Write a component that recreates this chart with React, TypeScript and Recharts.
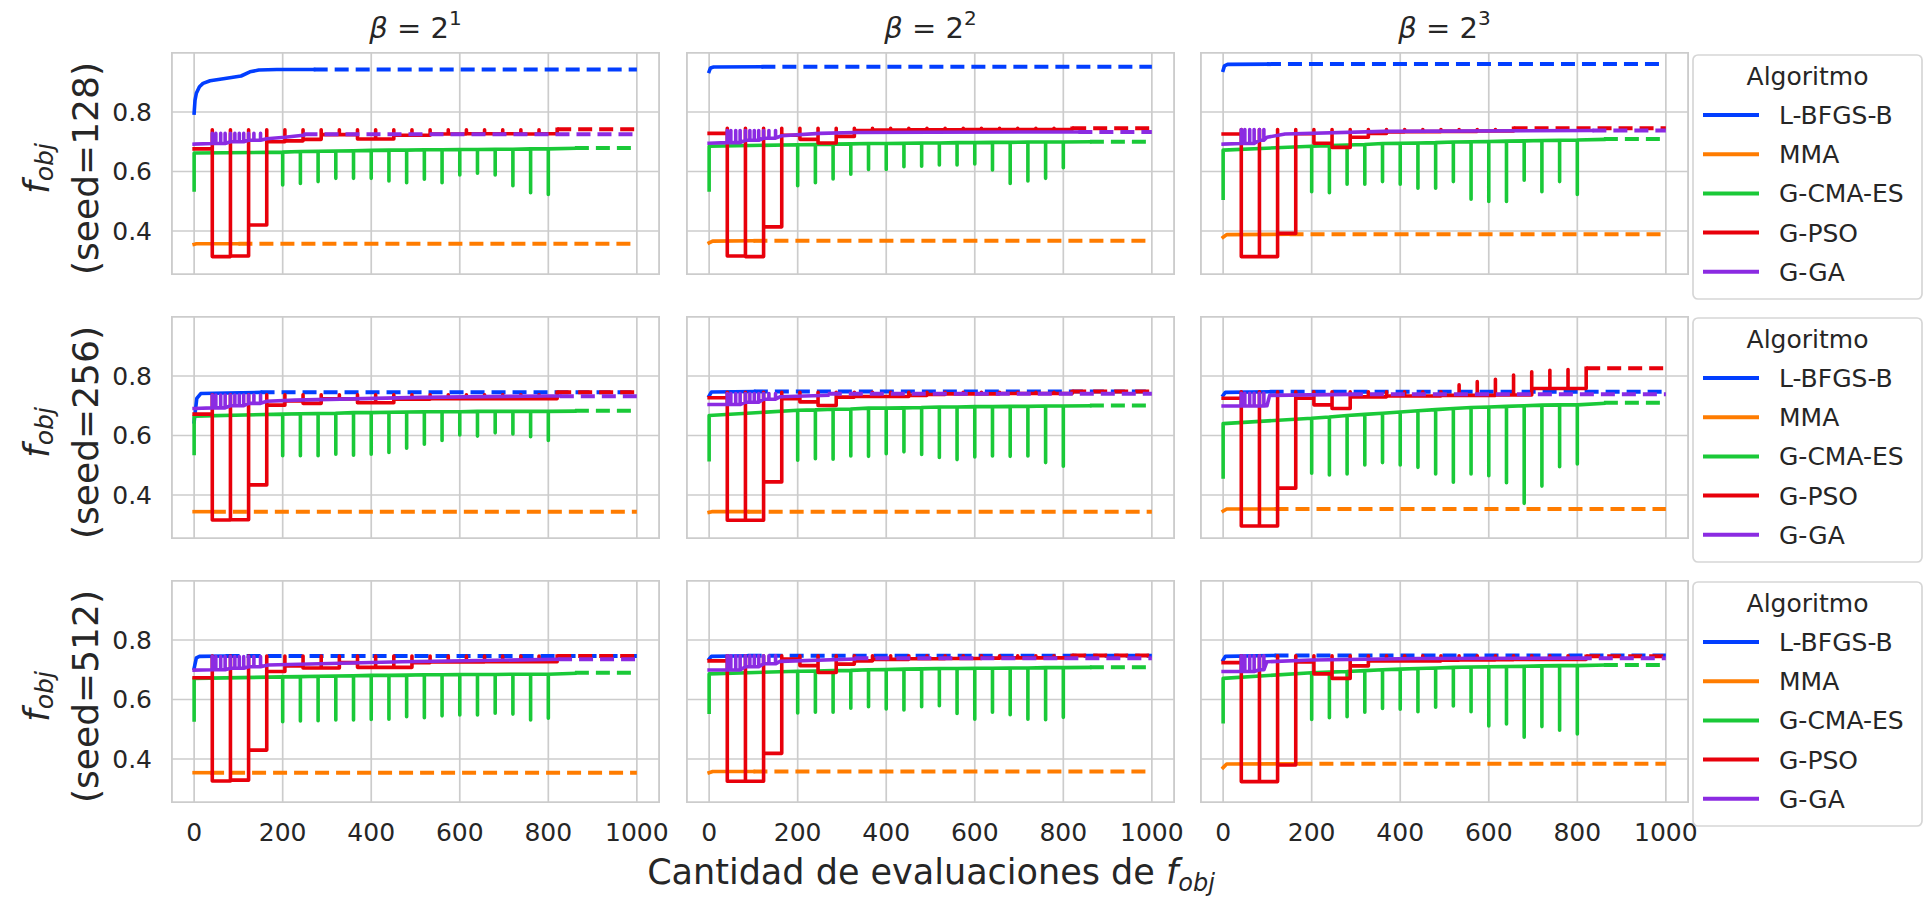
import React from 'react';
import { LineChart, Line, XAxis, YAxis, CartesianGrid } from 'recharts';

type Pt = [number, number];

// ---------- labels / ticks ----------
const betaExponents = ['1', '2', '3'];
const seedLabels = ['128', '256', '512'];
const algorithmNames = ['L-BFGS-B', 'MMA', 'G-CMA-ES', 'G-PSO', 'G-GA'];
const algorithmColors = ['#023eff', '#ff7c00', '#1ac938', '#e8000b', '#8b2be2'];
const xTicks = [0, 200, 400, 600, 800, 1000];
const yTicks = [0.4, 0.6, 0.8];
const xDomain: [number, number] = [-50, 1050];
const yDomain: [number, number] = [0.2555, 0.9983];
const xEnd = 1000;
const legendTitle = 'Algoritmo';
const xLabelText = 'Cantidad de evaluaciones de ';

// ---------- L-BFGS-B (solid trace; dashed continuation at last value) ----------
const lbfgs_s128_b1: Pt[] = [[0, 0.796], [2, 0.84], [5, 0.863], [12, 0.885], [20, 0.896], [36, 0.905], [66, 0.912], [106, 0.921], [126, 0.935], [146, 0.941], [187, 0.943], [270, 0.943]];
const lbfgs_s128_b2: Pt[] = [[0, 0.936], [3, 0.948], [10, 0.951], [118, 0.952]];
const lbfgs_s128_b3: Pt[] = [[0, 0.940], [3, 0.955], [10, 0.960], [99, 0.961]];
const lbfgs_s256_b1: Pt[] = [[0, 0.646], [6, 0.725], [15, 0.741], [150, 0.745]];
const lbfgs_s256_b2: Pt[] = [[0, 0.733], [5, 0.746], [101, 0.748]];
const lbfgs_s256_b3: Pt[] = [[0, 0.735], [5, 0.745], [105, 0.747]];
const lbfgs_s512_b1: Pt[] = [[0, 0.705], [5, 0.740], [12, 0.745], [71, 0.746]];
const lbfgs_s512_b2: Pt[] = [[0, 0.736], [5, 0.745], [87, 0.747]];
const lbfgs_s512_b3: Pt[] = [[0, 0.733], [5, 0.745], [116, 0.748]];

// ---------- MMA ----------
const mma_s128_b1: Pt[] = [[0, 0.355], [5, 0.357], [100, 0.357]];
const mma_s128_b2: Pt[] = [[0, 0.360], [8, 0.366], [100, 0.367]];
const mma_s128_b3: Pt[] = [[0, 0.379], [8, 0.388], [150, 0.389]];
const mma_s256_b1: Pt[] = [[0, 0.344], [40, 0.344]];
const mma_s256_b2: Pt[] = [[0, 0.342], [6, 0.344], [87, 0.344]];
const mma_s256_b3: Pt[] = [[0, 0.346], [8, 0.353], [116, 0.353]];
const mma_s512_b1: Pt[] = [[0, 0.354], [36, 0.354]];
const mma_s512_b2: Pt[] = [[0, 0.354], [8, 0.358], [100, 0.358]];
const mma_s512_b3: Pt[] = [[0, 0.371], [8, 0.383], [170, 0.384]];

// ---------- G-CMA-ES ----------
const cmaSpikeX = [200, 240, 280, 320, 360, 400, 440, 480, 520, 560, 600, 640, 680, 720, 760, 800];
const cmaSolidEnd = 860;
const cmaStart_s128 = [0.538, 0.538, 0.510];
const cmaStart_s256 = [0.540, 0.519, 0.461];
const cmaStart_s512 = [0.531, 0.557, 0.525];
const cmaBase_s128_b1 = [0.662, 0.665, 0.667, 0.668, 0.669, 0.670, 0.671, 0.672, 0.672, 0.673, 0.673, 0.674, 0.674, 0.675, 0.675, 0.676, 0.676, 0.678];
const cmaBase_s128_b2 = [0.685, 0.690, 0.691, 0.692, 0.693, 0.694, 0.694, 0.695, 0.696, 0.696, 0.697, 0.697, 0.698, 0.698, 0.699, 0.699, 0.699, 0.700];
const cmaBase_s128_b3 = [0.672, 0.685, 0.687, 0.689, 0.691, 0.694, 0.695, 0.696, 0.697, 0.699, 0.700, 0.701, 0.702, 0.703, 0.704, 0.705, 0.706, 0.708];
const cmaBase_s256_b1 = [0.665, 0.672, 0.673, 0.674, 0.675, 0.677, 0.677, 0.678, 0.679, 0.680, 0.680, 0.680, 0.681, 0.681, 0.681, 0.681, 0.681, 0.682];
const cmaBase_s256_b2 = [0.667, 0.685, 0.686, 0.688, 0.689, 0.692, 0.692, 0.693, 0.694, 0.696, 0.696, 0.697, 0.697, 0.698, 0.698, 0.699, 0.699, 0.700];
const cmaBase_s256_b3 = [0.640, 0.658, 0.662, 0.667, 0.671, 0.675, 0.679, 0.683, 0.687, 0.691, 0.694, 0.696, 0.698, 0.700, 0.702, 0.703, 0.703, 0.708];
const cmaBase_s512_b1 = [0.671, 0.676, 0.677, 0.678, 0.679, 0.680, 0.681, 0.681, 0.682, 0.683, 0.683, 0.684, 0.684, 0.684, 0.685, 0.685, 0.685, 0.688];
const cmaBase_s512_b2 = [0.686, 0.695, 0.696, 0.697, 0.698, 0.700, 0.701, 0.702, 0.703, 0.704, 0.704, 0.705, 0.705, 0.706, 0.706, 0.707, 0.707, 0.708];
const cmaBase_s512_b3 = [0.671, 0.690, 0.692, 0.694, 0.697, 0.700, 0.702, 0.704, 0.706, 0.708, 0.709, 0.710, 0.711, 0.712, 0.713, 0.714, 0.714, 0.716];
const cmaSpike_s128_b1 = [0.555, 0.560, 0.566, 0.577, 0.577, 0.577, 0.568, 0.562, 0.574, 0.562, 0.588, 0.594, 0.588, 0.552, 0.529, 0.523];
const cmaSpike_s128_b2 = [0.552, 0.562, 0.575, 0.591, 0.607, 0.607, 0.616, 0.618, 0.622, 0.622, 0.625, 0.605, 0.560, 0.568, 0.577, 0.613];
const cmaSpike_s128_b3 = [0.532, 0.529, 0.557, 0.557, 0.566, 0.557, 0.544, 0.544, 0.566, 0.507, 0.499, 0.499, 0.571, 0.532, 0.566, 0.523];
const cmaSpike_s256_b1 = [0.532, 0.532, 0.532, 0.537, 0.534, 0.537, 0.543, 0.557, 0.571, 0.583, 0.602, 0.598, 0.609, 0.605, 0.596, 0.583];
const cmaSpike_s256_b2 = [0.517, 0.522, 0.520, 0.531, 0.530, 0.539, 0.545, 0.536, 0.526, 0.519, 0.528, 0.531, 0.530, 0.531, 0.509, 0.497];
const cmaSpike_s256_b3 = [0.473, 0.467, 0.471, 0.501, 0.509, 0.501, 0.493, 0.471, 0.443, 0.471, 0.465, 0.441, 0.372, 0.430, 0.495, 0.504];
const cmaSpike_s512_b1 = [0.525, 0.528, 0.529, 0.531, 0.531, 0.533, 0.534, 0.542, 0.539, 0.545, 0.548, 0.548, 0.554, 0.551, 0.531, 0.537];
const cmaSpike_s512_b2 = [0.555, 0.557, 0.557, 0.571, 0.576, 0.568, 0.565, 0.576, 0.579, 0.553, 0.534, 0.557, 0.549, 0.534, 0.532, 0.540];
const cmaSpike_s512_b3 = [0.533, 0.539, 0.542, 0.557, 0.570, 0.567, 0.559, 0.574, 0.578, 0.559, 0.511, 0.518, 0.473, 0.509, 0.497, 0.484];
const cmaFinal_s128 = [0.679, 0.700, 0.709];
const cmaFinal_s256 = [0.683, 0.701, 0.710];
const cmaFinal_s512 = [0.690, 0.708, 0.716];

// ---------- G-PSO (one level per iteration block of 41 evaluations) ----------
const psoBlockX = [0, 41, 82, 123, 164, 205, 246, 287, 328, 369, 410, 451, 492, 533, 574, 615, 656, 697, 738, 779, 820];
const psoLevels_s128_b1 = [0.676, 0.314, 0.316, 0.420, 0.700, 0.703, 0.708, 0.724, 0.724, 0.709, 0.709, 0.722, 0.722, 0.726, 0.726, 0.727, 0.727, 0.727, 0.726, 0.727];
const psoLevels_s128_b2 = [0.728, 0.316, 0.314, 0.414, 0.722, 0.708, 0.696, 0.718, 0.738, 0.739, 0.739, 0.740, 0.740, 0.740, 0.741, 0.741, 0.741, 0.741, 0.741, 0.741];
const psoLevels_s128_b3 = [0.726, 0.314, 0.314, 0.392, 0.727, 0.695, 0.681, 0.715, 0.728, 0.733, 0.734, 0.734, 0.735, 0.735, 0.736, 0.736];
const psoLevels_s256_b1 = [0.672, 0.316, 0.317, 0.434, 0.702, 0.716, 0.708, 0.723, 0.723, 0.710, 0.710, 0.722, 0.722, 0.724, 0.724, 0.724, 0.724, 0.724, 0.724, 0.724];
const psoLevels_s256_b2 = [0.727, 0.315, 0.315, 0.444, 0.724, 0.713, 0.701, 0.729, 0.731, 0.731, 0.731, 0.735, 0.738, 0.740, 0.740, 0.740, 0.741, 0.741, 0.741, 0.741];
const psoLevels_s256_b3 = [0.725, 0.296, 0.296, 0.423, 0.725, 0.703, 0.691, 0.730, 0.730, 0.733, 0.733, 0.733, 0.735, 0.735, 0.735, 0.736, 0.736, 0.758, 0.758, 0.758];
const psoLevels_s512_b1 = [0.673, 0.326, 0.329, 0.430, 0.694, 0.713, 0.706, 0.706, 0.724, 0.708, 0.708, 0.708, 0.724, 0.726, 0.726, 0.726, 0.727, 0.727, 0.727, 0.727];
const psoLevels_s512_b2 = [0.730, 0.325, 0.325, 0.419, 0.736, 0.714, 0.691, 0.719, 0.730, 0.735, 0.735, 0.737, 0.737, 0.738, 0.738, 0.739, 0.740, 0.740, 0.740, 0.740];
const psoLevels_s512_b3 = [0.724, 0.324, 0.324, 0.380, 0.726, 0.686, 0.671, 0.713, 0.730, 0.730, 0.730, 0.730, 0.732, 0.733, 0.733, 0.734, 0.735, 0.735, 0.735, 0.735];
const psoSpike_s128 = [0.740, 0.745, 0.741];
const psoSpike_s256_b1 = 0.737;
const psoSpike_s256_b2 = 0.745;
const psoSpike_s256_b3 = [0.747, 0.747, 0.747, 0.747, 0.747, 0.747, 0.747, 0.747, 0.747, 0.747, 0.747, 0.747, 0.770, 0.781, 0.789, 0.803, 0.814, 0.819, 0.822];
const psoSpike_s512 = [0.746, 0.747, 0.747];
const psoFinal_s128 = [0.742, 0.745, 0.745];
const psoFinal_s256 = [0.745, 0.748, 0.826];
const psoFinal_s512 = [0.746, 0.748, 0.745];

// ---------- G-GA ----------
const gaBase_s128_b1: Pt[] = [[0, 0.692], [41, 0.694], [82, 0.700], [123, 0.705], [164, 0.710], [205, 0.715], [247, 0.722]];
const gaBase_s128_b2: Pt[] = [[0, 0.695], [41, 0.697], [82, 0.705], [123, 0.712], [164, 0.720], [250, 0.728], [330, 0.731], [500, 0.732], [834, 0.733]];
const gaBase_s128_b3: Pt[] = [[0, 0.692], [41, 0.694], [82, 0.705], [99, 0.715], [140, 0.726], [363, 0.735], [834, 0.738]];
const gaBase_s256_b1: Pt[] = [[0, 0.691], [41, 0.693], [82, 0.700], [123, 0.708], [164, 0.715], [227, 0.719], [512, 0.728], [797, 0.733], [826, 0.733]];
const gaBase_s256_b2: Pt[] = [[0, 0.704], [41, 0.704], [82, 0.712], [123, 0.722], [160, 0.730], [268, 0.735]];
const gaBase_s256_b3: Pt[] = [[0, 0.699], [41, 0.699], [82, 0.699], [99, 0.700], [105, 0.735], [284, 0.738]];
const gaBase_s512_b1: Pt[] = [[0, 0.699], [41, 0.700], [82, 0.705], [123, 0.710], [167, 0.716], [470, 0.727], [822, 0.735]];
const gaBase_s512_b2: Pt[] = [[0, 0.699], [41, 0.699], [82, 0.710], [123, 0.720], [160, 0.728], [328, 0.736]];
const gaBase_s512_b3: Pt[] = [[0, 0.694], [41, 0.694], [82, 0.700], [99, 0.727], [200, 0.733], [440, 0.738], [801, 0.739]];
const gaSpikeX_long = [41, 49, 60, 70, 82, 92, 102, 112, 123, 135, 150];
const gaSpikeX_short = [41, 49, 60, 70, 82, 92];
const gaSpikeTop_s128 = [0.728, 0.738, 0.741];
const gaSpikeTop_s256 = [0.736, 0.741, 0.742];
const gaSpikeTop_s512 = [0.744, 0.747, 0.747];
const gaFinal_s128 = [0.725, 0.733, 0.738];
const gaFinal_s256 = [0.732, 0.740, 0.739];
const gaFinal_s512 = [0.735, 0.739, 0.739];

// ---------- panel table ----------
type PanelData = {
  lbfgs: Pt[]; mma: Pt[];
  cmaStart: number; cmaBase: number[]; cmaSpike: number[]; cmaFinal: number;
  psoLevels: number[]; psoSpike: number | number[]; psoFinal: number;
  gaBase: Pt[]; gaSpikeX: number[]; gaSpikeTop: number; gaFinal: number;
};

const panels: PanelData[][] = [
  [
    { lbfgs: lbfgs_s128_b1, mma: mma_s128_b1, cmaStart: cmaStart_s128[0], cmaBase: cmaBase_s128_b1, cmaSpike: cmaSpike_s128_b1, cmaFinal: cmaFinal_s128[0], psoLevels: psoLevels_s128_b1, psoSpike: psoSpike_s128[0], psoFinal: psoFinal_s128[0], gaBase: gaBase_s128_b1, gaSpikeX: gaSpikeX_long, gaSpikeTop: gaSpikeTop_s128[0], gaFinal: gaFinal_s128[0] },
    { lbfgs: lbfgs_s128_b2, mma: mma_s128_b2, cmaStart: cmaStart_s128[1], cmaBase: cmaBase_s128_b2, cmaSpike: cmaSpike_s128_b2, cmaFinal: cmaFinal_s128[1], psoLevels: psoLevels_s128_b2, psoSpike: psoSpike_s128[1], psoFinal: psoFinal_s128[1], gaBase: gaBase_s128_b2, gaSpikeX: gaSpikeX_long, gaSpikeTop: gaSpikeTop_s128[1], gaFinal: gaFinal_s128[1] },
    { lbfgs: lbfgs_s128_b3, mma: mma_s128_b3, cmaStart: cmaStart_s128[2], cmaBase: cmaBase_s128_b3, cmaSpike: cmaSpike_s128_b3, cmaFinal: cmaFinal_s128[2], psoLevels: psoLevels_s128_b3, psoSpike: psoSpike_s128[2], psoFinal: psoFinal_s128[2], gaBase: gaBase_s128_b3, gaSpikeX: gaSpikeX_short, gaSpikeTop: gaSpikeTop_s128[2], gaFinal: gaFinal_s128[2] },
  ],
  [
    { lbfgs: lbfgs_s256_b1, mma: mma_s256_b1, cmaStart: cmaStart_s256[0], cmaBase: cmaBase_s256_b1, cmaSpike: cmaSpike_s256_b1, cmaFinal: cmaFinal_s256[0], psoLevels: psoLevels_s256_b1, psoSpike: psoSpike_s256_b1, psoFinal: psoFinal_s256[0], gaBase: gaBase_s256_b1, gaSpikeX: gaSpikeX_long, gaSpikeTop: gaSpikeTop_s256[0], gaFinal: gaFinal_s256[0] },
    { lbfgs: lbfgs_s256_b2, mma: mma_s256_b2, cmaStart: cmaStart_s256[1], cmaBase: cmaBase_s256_b2, cmaSpike: cmaSpike_s256_b2, cmaFinal: cmaFinal_s256[1], psoLevels: psoLevels_s256_b2, psoSpike: psoSpike_s256_b2, psoFinal: psoFinal_s256[1], gaBase: gaBase_s256_b2, gaSpikeX: gaSpikeX_long, gaSpikeTop: gaSpikeTop_s256[1], gaFinal: gaFinal_s256[1] },
    { lbfgs: lbfgs_s256_b3, mma: mma_s256_b3, cmaStart: cmaStart_s256[2], cmaBase: cmaBase_s256_b3, cmaSpike: cmaSpike_s256_b3, cmaFinal: cmaFinal_s256[2], psoLevels: psoLevels_s256_b3, psoSpike: psoSpike_s256_b3, psoFinal: psoFinal_s256[2], gaBase: gaBase_s256_b3, gaSpikeX: gaSpikeX_short, gaSpikeTop: gaSpikeTop_s256[2], gaFinal: gaFinal_s256[2] },
  ],
  [
    { lbfgs: lbfgs_s512_b1, mma: mma_s512_b1, cmaStart: cmaStart_s512[0], cmaBase: cmaBase_s512_b1, cmaSpike: cmaSpike_s512_b1, cmaFinal: cmaFinal_s512[0], psoLevels: psoLevels_s512_b1, psoSpike: psoSpike_s512[0], psoFinal: psoFinal_s512[0], gaBase: gaBase_s512_b1, gaSpikeX: gaSpikeX_long, gaSpikeTop: gaSpikeTop_s512[0], gaFinal: gaFinal_s512[0] },
    { lbfgs: lbfgs_s512_b2, mma: mma_s512_b2, cmaStart: cmaStart_s512[1], cmaBase: cmaBase_s512_b2, cmaSpike: cmaSpike_s512_b2, cmaFinal: cmaFinal_s512[1], psoLevels: psoLevels_s512_b2, psoSpike: psoSpike_s512[1], psoFinal: psoFinal_s512[1], gaBase: gaBase_s512_b2, gaSpikeX: gaSpikeX_long, gaSpikeTop: gaSpikeTop_s512[1], gaFinal: gaFinal_s512[1] },
    { lbfgs: lbfgs_s512_b3, mma: mma_s512_b3, cmaStart: cmaStart_s512[2], cmaBase: cmaBase_s512_b3, cmaSpike: cmaSpike_s512_b3, cmaFinal: cmaFinal_s512[2], psoLevels: psoLevels_s512_b3, psoSpike: psoSpike_s512[2], psoFinal: psoFinal_s512[2], gaBase: gaBase_s512_b3, gaSpikeX: gaSpikeX_short, gaSpikeTop: gaSpikeTop_s512[2], gaFinal: gaFinal_s512[2] },
  ],
];

// ---------- table builders ----------
type Row = { x: number; y: number };
const toRows = (pts: Pt[]): Row[] => pts.map(([x, y]) => ({ x, y }));
const tail = (x: number, y: number): Row[] => [{ x, y }, { x: xEnd, y }];

function cmaRows(p: PanelData) {
  const rows: Row[] = [{ x: 0, y: p.cmaStart }, { x: 0, y: p.cmaBase[0] }];
  cmaSpikeX.forEach((x, i) => {
    const b = p.cmaBase[i + 1];
    rows.push({ x, y: b }, { x, y: p.cmaSpike[i] }, { x, y: b });
  });
  rows.push({ x: cmaSolidEnd, y: p.cmaBase[p.cmaBase.length - 1] });
  return { solid: rows, dashed: tail(cmaSolidEnd, p.cmaFinal) };
}

function psoRows(p: PanelData) {
  const L = p.psoLevels;
  const rows: Row[] = [{ x: 0, y: L[0] }];
  for (let k = 1; k < L.length; k++) {
    const x = psoBlockX[k];
    const s = Array.isArray(p.psoSpike) ? p.psoSpike[k - 1] : p.psoSpike;
    rows.push({ x, y: L[k - 1] }, { x, y: s }, { x, y: L[k] });
  }
  const end = psoBlockX[L.length];
  rows.push({ x: end, y: L[L.length - 1] }, { x: end, y: p.psoFinal });
  return { solid: rows, dashed: tail(end, p.psoFinal) };
}

function gaRows(p: PanelData) {
  const rows: Row[] = [];
  let si = 0;
  p.gaBase.forEach(([bx, by], i) => {
    rows.push({ x: bx, y: by });
    const nextX = i + 1 < p.gaBase.length ? p.gaBase[i + 1][0] : Infinity;
    while (si < p.gaSpikeX.length && p.gaSpikeX[si] < nextX) {
      const sx = p.gaSpikeX[si];
      if (sx >= bx) rows.push({ x: sx, y: by }, { x: sx, y: p.gaSpikeTop }, { x: sx, y: by });
      si++;
    }
  });
  const last = p.gaBase[p.gaBase.length - 1];
  return { solid: rows, dashed: tail(last[0], p.gaFinal) };
}

function seriesFor(p: PanelData) {
  const lb = toRows(p.lbfgs);
  const mm = toRows(p.mma);
  const lbLast = lb[lb.length - 1];
  const mmLast = mm[mm.length - 1];
  return [
    { solid: lb, dashed: tail(lbLast.x, lbLast.y) },
    { solid: mm, dashed: tail(mmLast.x, mmLast.y) },
    cmaRows(p),
    psoRows(p),
    gaRows(p),
  ];
}

// ---------- layout ----------
const FONT = '"DejaVu Sans", Verdana, sans-serif';
const TEXT = '#262626';
const GRID = '#cccccc';
const colLeft = [172, 687, 1201];
const rowTop = [53, 317, 581];
const PW = 487;
const PH = 221;
const YAXIS_W = 80;
const XAXIS_H = 50;
const RIGHT_PAD = 40;
const legendTop = [55, 318, 582];
const LW = 3.6;

function Panel({ r, c }: { r: number; c: number }) {
  const p = panels[r][c];
  const showY = c === 0;
  const showX = r === 2;
  const left = colLeft[c] - (showY ? YAXIS_W : 0);
  const rightPad = showX ? RIGHT_PAD : 0;
  const width = PW + (showY ? YAXIS_W : 0) + rightPad;
  const height = PH + (showX ? XAXIS_H : 0);
  const series = seriesFor(p);
  return (
    <div style={{ position: 'absolute', left, top: rowTop[r], width, height }}>
      <div
        style={{
          position: 'absolute', left: showY ? YAXIS_W - 1 : -1, top: -1, width: PW + 2, height: PH + 2,
          border: `1.8px solid ${GRID}`, boxSizing: 'border-box',
        }}
      />
      <LineChart width={width} height={height} margin={{ top: 0, right: rightPad, bottom: 0, left: 0 }}>
        <CartesianGrid stroke={GRID} strokeWidth={1.7} />
        <XAxis
          type="number" dataKey="x" domain={xDomain} ticks={xTicks} allowDataOverflow interval={0}
          hide={!showX} height={XAXIS_H} tickLine={false} axisLine={false} tickSize={0} tickMargin={21}
          tick={{ fill: TEXT, fontSize: 25, fontFamily: FONT }}
        />
        <YAxis
          type="number" domain={yDomain} ticks={yTicks} allowDataOverflow interval={0}
          hide={!showY} width={YAXIS_W} tickLine={false} axisLine={false} tickSize={0} tickMargin={20}
          tick={{ fill: TEXT, fontSize: 25, fontFamily: FONT }}
          tickFormatter={(v: number) => v.toFixed(1)}
        />
        {series.flatMap((s, i) => [
          <Line
            key={`s${i}`} data={s.solid} dataKey="y" type="linear" stroke={algorithmColors[i]}
            strokeWidth={LW} dot={false} activeDot={false} isAnimationActive={false}
            strokeLinejoin="round" strokeLinecap="square" legendType="none"
          />,
          <Line
            key={`d${i}`} data={s.dashed} dataKey="y" type="linear" stroke={algorithmColors[i]}
            strokeWidth={LW + 0.4} strokeDasharray="14 7" dot={false} activeDot={false}
            isAnimationActive={false} legendType="none"
          />,
        ])}
      </LineChart>
    </div>
  );
}

function Overlay() {
  return (
    <svg
      width={1931} height={902}
      style={{ position: 'absolute', left: 0, top: 0, pointerEvents: 'none' }}
      fontFamily={FONT}
    >
      {betaExponents.map((e, c) => (
        <text key={`t${c}`} x={colLeft[c] + PW / 2} y={38} textAnchor="middle" fontSize={29} fill={TEXT} style={{ whiteSpace: 'pre' }}>
          <tspan fontStyle="italic">β</tspan>
          <tspan>{' = 2'}</tspan>
          <tspan dy={-13} fontSize={20}>{e}</tspan>
        </text>
      ))}
      {seedLabels.map((s, r) => {
        const cy = rowTop[r] + PH / 2 + 5;
        return (
          <g key={`y${r}`}>
            <text transform={`translate(36,${cy}) rotate(-90)`} textAnchor="middle" dominantBaseline="central" fontSize={36} fill={TEXT} fontStyle="italic">
              f<tspan fontSize={25} dy={8}>obj</tspan>
            </text>
            <text transform={`translate(85,${cy}) rotate(-90)`} textAnchor="middle" dominantBaseline="central" fontSize={36} fill={TEXT}>
              {`(seed=${s})`}
            </text>
          </g>
        );
      })}
      <text x={931} y={884} textAnchor="middle" fontSize={35} fill={TEXT} style={{ whiteSpace: 'pre' }}>
        {xLabelText}
        <tspan fontStyle="italic">f</tspan>
        <tspan fontStyle="italic" fontSize={24} dy={7}>obj</tspan>
      </text>
      {legendTop.map((t, r) => (
        <g key={`l${r}`}>
          <rect x={1693} y={t} width={229} height={244} rx={5} fill="#ffffff" stroke="#d6d6d6" strokeWidth={1.7} />
          <text x={1807.5} y={t + 30} textAnchor="middle" fontSize={25} fill={TEXT}>{legendTitle}</text>
          {algorithmNames.map((n, i) => {
            const y = t + 60 + 39.2 * i;
            return (
              <g key={n}>
                <line x1={1703} x2={1759} y1={y} y2={y} stroke={algorithmColors[i]} strokeWidth={4} />
                <text x={1779} y={y + 9} fontSize={25} fill={TEXT}>{n}</text>
              </g>
            );
          })}
        </g>
      ))}
    </svg>
  );
}

export default function App() {
  return (
    <div style={{ position: 'absolute', left: 0, top: 0, width: 1931, height: 902, background: '#ffffff', overflow: 'hidden', fontFamily: FONT }}>
      {[0, 1, 2].map((r) => [0, 1, 2].map((c) => <Panel key={`${r}-${c}`} r={r} c={c} />))}
      <Overlay />
    </div>
  );
}
